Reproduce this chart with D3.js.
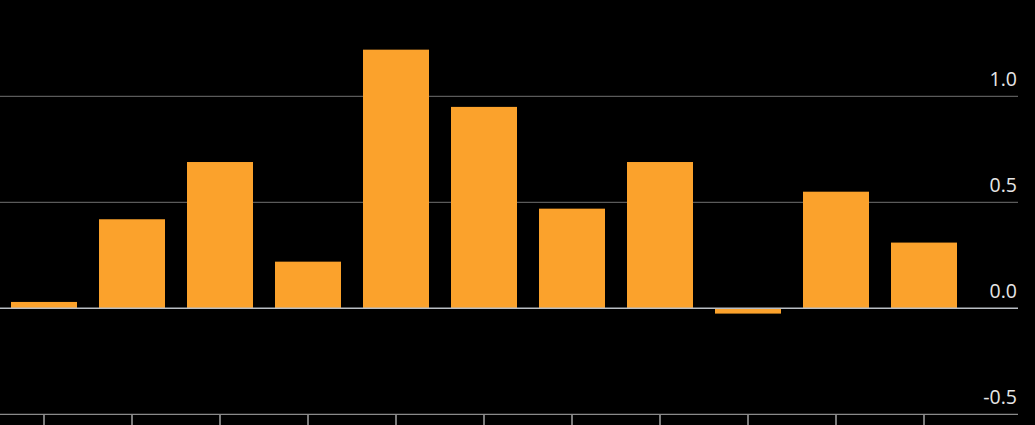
<!DOCTYPE html>
<html>
<head>
<meta charset="utf-8">
<script src="https://cdn.jsdelivr.net/npm/d3@7"></script>
<style>
  html, body { margin: 0; padding: 0; background: #000; }
  svg { display: block; }
</style>
</head>
<body>
<svg id="chart"></svg>
<script>
const categories = ["1", "2", "3", "4", "5", "6", "7", "8", "9", "10", "11"];
const values = [0.03, 0.42, 0.69, 0.22, 1.22, 0.95, 0.47, 0.69, -0.025, 0.55, 0.31];
const yTicks = [-0.5, 0, 0.5, 1.0];

const width = 1035, height = 425;
const plotRight = 1018;

const svg = d3.select("#chart")
    .attr("width", width)
    .attr("height", height)
    .attr("viewBox", [0, 0, width, height]);

svg.append("rect")
    .attr("width", width)
    .attr("height", height)
    .attr("fill", "#000");

const x = d3.scaleBand(categories, [0, 968])
    .paddingInner(0.25)
    .paddingOuter(0.125);

const y = d3.scaleLinear([-0.5, 1.0], [414.3, 96.3]);

// plain hyphen for negatives, like the original
const fmt = d => d3.format(".1f")(d).replace("\u2212", "-");

// gridlines + labels
const grid = svg.append("g");
grid.selectAll("line")
  .data(yTicks.filter(d => d !== 0 && d !== -0.5))
  .join("line")
    .attr("x1", 0)
    .attr("x2", plotRight)
    .attr("y1", d => y(d))
    .attr("y2", d => y(d))
    .attr("stroke", "#5a5a5a")
    .attr("stroke-width", 1.2);

grid.selectAll("text")
  .data(yTicks)
  .join("text")
    .attr("x", plotRight - 1)
    .attr("y", d => y(d) - 10)
    .attr("text-anchor", "end")
    .attr("fill", "#e6e6e6")
    .style("font-family", "'Open Sans', sans-serif")
    .style("font-size", "19.5px")
    .text(fmt);

// bars
svg.append("g")
    .attr("fill", "#fba22c")
  .selectAll("rect")
  .data(values)
  .join("rect")
    .attr("x", (d, i) => x(categories[i]))
    .attr("y", d => y(Math.max(0, d)))
    .attr("width", x.bandwidth())
    .attr("height", d => Math.abs(y(d) - y(0)));

// zero line
svg.append("line")
    .attr("x1", 0)
    .attr("x2", plotRight)
    .attr("y1", y(0))
    .attr("y2", y(0))
    .attr("stroke", "#b9bec4")
    .attr("stroke-width", 1.6);

// bottom axis
const xAxis = d3.axisBottom(x).tickSize(14).tickFormat("").tickSizeOuter(0);
svg.append("g")
    .attr("transform", `translate(0,${y(-0.5)})`)
    .call(xAxis)
    .call(g => g.select(".domain").remove())
    .call(g => g.selectAll(".tick line").attr("stroke", "#b0b0b0").attr("stroke-width", 1.4));

svg.append("line")
    .attr("x1", 0)
    .attr("x2", plotRight)
    .attr("y1", y(-0.5))
    .attr("y2", y(-0.5))
    .attr("stroke", "#8a8a8a")
    .attr("stroke-width", 1.2);
</script>
</body>
</html>
